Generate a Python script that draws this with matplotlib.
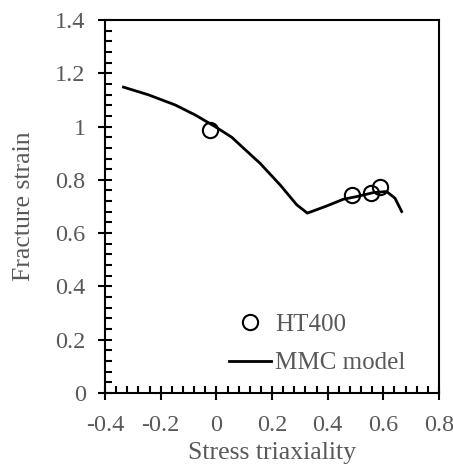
import matplotlib
matplotlib.use("Agg")
import matplotlib.pyplot as plt
from matplotlib.ticker import MultipleLocator, FuncFormatter

# test data (HT400)
ht400_x = [-0.023, 0.486, 0.556, 0.588]
ht400_y = [0.988, 0.743, 0.750, 0.774]

# MMC model curve
mmc_x = [-0.334, -0.244, -0.148, -0.077, -0.005, 0.055, 0.085, 0.157, 0.229,
         0.289, 0.327, 0.397, 0.456, 0.504, 0.564, 0.612, 0.642, 0.666]
mmc_y = [1.148, 1.119, 1.081, 1.044, 1.000, 0.960, 0.931, 0.862, 0.781,
         0.706, 0.675, 0.702, 0.727, 0.737, 0.752, 0.756, 0.731, 0.681]

GREY = "#595959"
plt.rcParams["font.family"] = ["Liberation Serif", "DejaVu Serif"]

fig = plt.figure(figsize=(4.53, 4.65), dpi=100)
ax = fig.add_axes([0.232, 0.155, 0.737, 0.802])

ax.plot(ht400_x, ht400_y, linestyle="none", marker="o", markersize=11,
        markerfacecolor="none", markeredgecolor="black", markeredgewidth=1.5,
        label="HT400", zorder=3)
ax.plot(mmc_x, mmc_y, color="black", linewidth=2.0, label="MMC model",
        solid_joinstyle="round", zorder=2)

ax.set_xlim(-0.4, 0.8)
ax.set_ylim(0, 1.4)
ax.xaxis.set_major_locator(MultipleLocator(0.2))
ax.xaxis.set_minor_locator(MultipleLocator(0.04))
ax.yaxis.set_major_locator(MultipleLocator(0.2))
ax.yaxis.set_minor_locator(MultipleLocator(0.04))
fmt = FuncFormatter(lambda v, p: f"{v:g}" if abs(v) > 1e-9 else "0")
ax.xaxis.set_major_formatter(fmt)
ax.yaxis.set_major_formatter(fmt)

ax.tick_params(which="major", direction="inout", length=10, width=1.5,
               labelsize=17.5, labelcolor=GREY, color="black")
ax.tick_params(axis="y", which="major", pad=9)
ax.tick_params(axis="x", which="major", pad=11)
ax.tick_params(which="minor", direction="in", length=5, width=1.5)
for s in ax.spines.values():
    s.set_linewidth(1.5)

ax.set_xlabel("Stress triaxiality", fontsize=18.5, color=GREY, labelpad=4)
ax.set_ylabel("Fracture strain", fontsize=18.5, color=GREY, labelpad=14.5)

leg = ax.legend(loc="lower left", bbox_to_anchor=(0.371, 0.05), frameon=False,
                fontsize=18, handlelength=1.7, handletextpad=0.15,
                labelspacing=0.65, borderpad=0, borderaxespad=0)
for t in leg.get_texts():
    t.set_color(GREY)

fig.savefig("out.png", dpi=100)
